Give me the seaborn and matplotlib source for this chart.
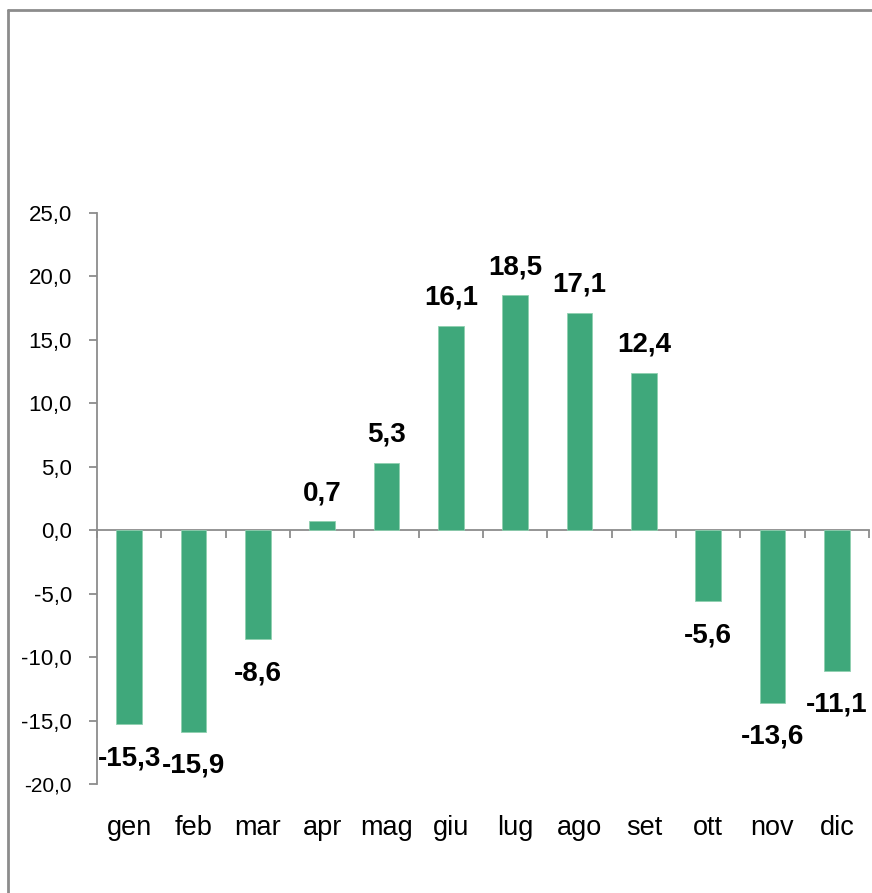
import numpy as np
import pandas as pd
import matplotlib
matplotlib.use("Agg")
import matplotlib.pyplot as plt
from matplotlib.lines import Line2D
import seaborn as sns

months = ["gen", "feb", "mar", "apr", "mag", "giu", "lug", "ago", "set", "ott", "nov", "dic"]
values = [-15.3, -15.9, -8.6, 0.7, 5.3, 16.1, 18.5, 17.1, 12.4, -5.6, -13.6, -11.1]
yticks = [-20, -15, -10, -5, 0, 5, 10, 15, 20, 25]

sns.set_theme(style="white")
plt.rcParams["font.family"] = ["Liberation Sans", "DejaVu Sans"]

W, H = 872, 893
fig = plt.figure(figsize=(W / 100, H / 100), dpi=100)
left, right, top, bottom = 97, 869, 213, 784
ax = fig.add_axes([left / W, 1 - bottom / H, (right - left) / W, (bottom - top) / H])

df = pd.DataFrame({"month": months, "value": values})
sns.barplot(data=df, x="month", y="value", color="#3FA87B", saturation=1,
            width=0.4, ax=ax, edgecolor="#8fd0b0", linewidth=0.6)

ax.set_xlim(-0.5, len(months) - 0.5)
ax.set_ylim(-20, 25)
ax.set_yticks(yticks)
ax.set_yticklabels([f"{v:.1f}".replace(".", ",") for v in yticks])
ax.set_xlabel("")
ax.set_ylabel("")

gray = "#8c8c8c"
for s in ["top", "right", "bottom"]:
    ax.spines[s].set_visible(False)
ax.spines["left"].set_color(gray)
ax.spines["left"].set_linewidth(1.3)
ax.tick_params(axis="y", length=6, width=1.3, color=gray, labelsize=16,
               labelcolor="black", pad=12, direction="out", left=True)
ax.tick_params(axis="x", length=0, labelsize=19.5, labelcolor="black", pad=22)
ax.get_yticklabels()[0].set_fontsize(15)

# zero category axis with ticks between categories
secax = ax.secondary_xaxis(20 / 45)
secax.set_xticks(np.arange(-0.5, len(months), 1.0))
secax.set_xticklabels([])
secax.tick_params(axis="x", length=6, width=1.3, color=gray, direction="out")
for s in secax.spines.values():
    s.set_visible(False)
secax.spines["bottom"].set_visible(True)
secax.spines["bottom"].set_color(gray)
secax.spines["bottom"].set_linewidth(1.3)

container = ax.containers[0]
lab = [f"{v:.1f}".replace(".", ",") for v in values]
pos_labels = [l if v >= 0 else "" for l, v in zip(lab, values)]
neg_labels = [l if v < 0 else "" for l, v in zip(lab, values)]
ax.bar_label(container, labels=pos_labels, padding=11, fontsize=20,
             fontweight="bold", color="black")
ax.bar_label(container, labels=neg_labels, padding=15, fontsize=20,
             fontweight="bold", color="black")

# outer frame (partially visible)
fx = 8 / W
fy = 1 - 10 / H
fig.add_artist(Line2D([fx, fx], [0, fy], transform=fig.transFigure, color=gray, lw=2))
fig.add_artist(Line2D([fx, 1], [fy, fy], transform=fig.transFigure, color=gray, lw=2))

fig.savefig("out.png", dpi=100, facecolor="white")
